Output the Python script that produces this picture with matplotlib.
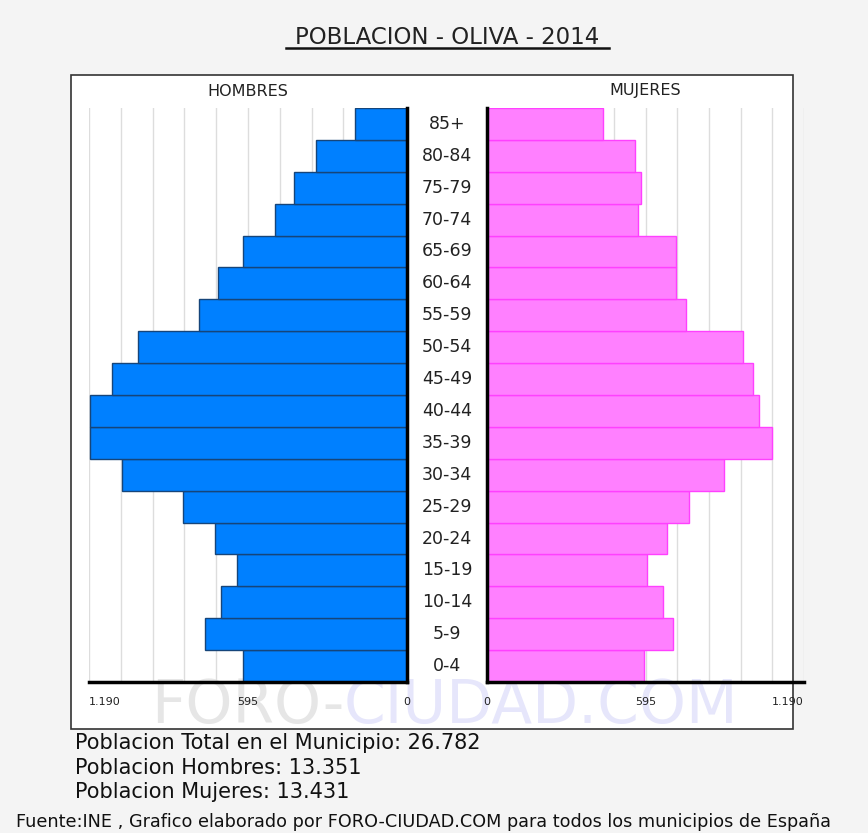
import matplotlib
matplotlib.use("Agg")
import matplotlib.pyplot as plt
from matplotlib.patches import Rectangle
from matplotlib.transforms import blended_transform_factory

# data (bottom to top)
age_groups = ["0-4", "5-9", "10-14", "15-19", "20-24", "25-29", "30-34", "35-39", "40-44",
              "45-49", "50-54", "55-59", "60-64", "65-69", "70-74", "75-79", "80-84", "85+"]
hombres = [613, 757, 697, 636, 720, 840, 1067, 1186, 1186,
           1103, 1007, 780, 708, 613, 493, 422, 339, 196]
mujeres = [591, 698, 662, 601, 674, 758, 889, 1069, 1021,
           997, 962, 746, 711, 711, 568, 579, 555, 436]

x_max = 1190
grid_lines = [0, 119, 238, 357, 476, 595, 714, 833, 952, 1071, 1190]
tick_values = [0, 595, 1190]
tick_labels = ["0", "595", "1.190"]

title = "POBLACION - OLIVA - 2014"
info_lines = ["Poblacion Total en el Municipio: 26.782",
              "Poblacion Hombres: 13.351",
              "Poblacion Mujeres: 13.431"]
footer = "Fuente:INE , Grafico elaborado por FORO-CIUDAD.COM para todos los municipios de España"

W, H = 868, 833
fig = plt.figure(figsize=(W / 100, H / 100), dpi=100)
fig.patch.set_facecolor("#f4f4f4")


def fx(px):
    return px / W


def fy(py):
    return 1 - py / H


# white box round the chart
fig.patches.append(Rectangle((fx(71), fy(729)), fx(793) - fx(71), fy(75) - fy(729),
                             transform=fig.transFigure, facecolor="white",
                             edgecolor="#333333", linewidth=1.2, zorder=0))

# watermark
fig.text(fx(344), fy(706), "FORO-", ha="right", va="center", fontsize=43,
         color="#e6e6e6", zorder=0.5)
fig.text(fx(344), fy(706), "CIUDAD.COM", ha="left", va="center", fontsize=43,
         color="#e6e6fb", zorder=0.5)

ax_l = fig.add_axes([fx(89), fy(682), fx(407) - fx(89), fy(108) - fy(682)])
ax_r = fig.add_axes([fx(487), fy(682), fx(804) - fx(487), fy(108) - fy(682)])

y = list(range(len(age_groups)))
ax_l.barh(y, hombres, height=1.0, color="#0080ff", edgecolor="#16457a", linewidth=1, zorder=2)
ax_r.barh(y, mujeres, height=1.0, color="#ff80ff", edgecolor="#ff40ff", linewidth=1, zorder=2)

for ax in (ax_l, ax_r):
    ax.set_facecolor("none")
    ax.set_zorder(1)
    ax.set_ylim(-0.5, len(age_groups) - 0.5)
    ax.set_yticks([])
    for g in grid_lines:
        ax.axvline(g, color="#dddddd", linewidth=1, zorder=1)
    ax.set_xticks(tick_values)
    ax.set_xticklabels(tick_labels, fontsize=8, color="#222222")
    ax.tick_params(axis="x", length=0, pad=11)
    ax.spines["top"].set_visible(False)
    ax.spines["bottom"].set_linewidth(2.5)
    ax.spines["bottom"].set_zorder(3)

ax_l.set_xlim(x_max, 0)
ax_r.set_xlim(0, x_max)
ax_l.spines["left"].set_visible(False)
ax_l.spines["right"].set_linewidth(2.5)
ax_r.spines["right"].set_visible(False)
ax_r.spines["left"].set_linewidth(2.5)

# outer tick labels sit inside the panel
ax_l.get_xticklabels()[2].set_ha("left")
ax_r.get_xticklabels()[2].set_ha("right")

# age labels in the middle
trans = blended_transform_factory(fig.transFigure, ax_l.transData)
for i, lab in enumerate(age_groups):
    ax_l.text(fx(447), i, lab, transform=trans, ha="center", va="center",
              fontsize=12.5, color="#222222", clip_on=False)

fig.text(fx(248), fy(91), "HOMBRES", ha="center", va="center", fontsize=11.5, color="#222222")
fig.text(fx(645), fy(91), "MUJERES", ha="center", va="center", fontsize=11.5, color="#222222")

# title with underline
fig.text(fx(447), fy(37), title, ha="center", va="center", fontsize=16.5, color="#222222")
fig.add_artist(plt.Line2D([fx(286), fx(609)], [fy(48), fy(48)], transform=fig.transFigure,
                          color="#111111", linewidth=1.8))

for i, line in enumerate(info_lines):
    fig.text(fx(75), fy(743 + 24.5 * i), line, ha="left", va="center", fontsize=15,
             color="#111111")

fig.text(fx(424), fy(822), footer, ha="center", va="center", fontsize=12.7, color="#111111")

fig.savefig("out.png", dpi=100, facecolor=fig.get_facecolor())
